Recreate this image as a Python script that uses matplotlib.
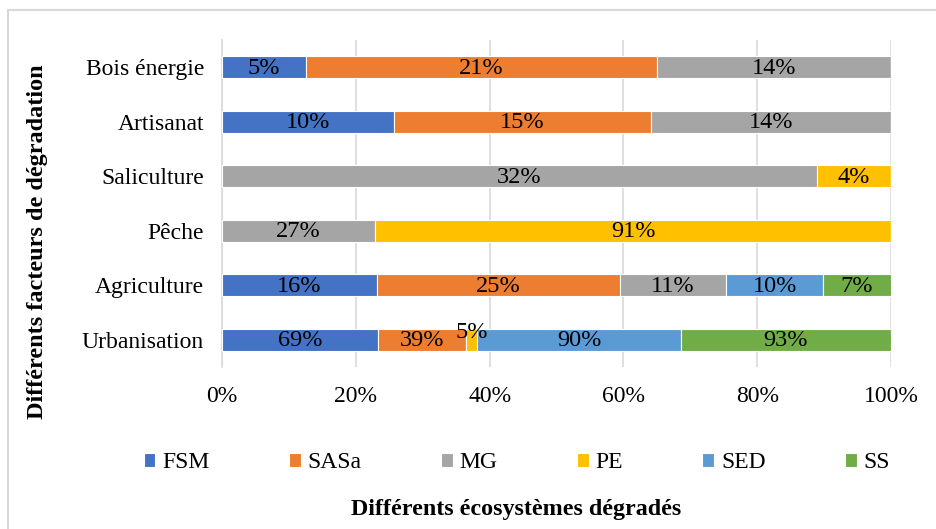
import numpy as np
import matplotlib.pyplot as plt
from matplotlib.patches import Rectangle

plt.rcParams['font.family'] = ['Liberation Serif', 'DejaVu Serif']

# rows from bottom to top
facteurs = ['Urbanisation', 'Agriculture', 'Pêche', 'Saliculture', 'Artisanat', 'Bois énergie']
series = ['FSM', 'SASa', 'MG', 'PE', 'SED', 'SS']
colors = ['#4472C4', '#ED7D31', '#A5A5A5', '#FFC000', '#5B9BD5', '#70AD47']

# raw values (shown as labels), each row normalised to 100 %
FSM  = [69, 16, 0, 0, 10, 5]
SASa = [39, 25, 0, 0, 15, 21]
MG   = [0, 11, 27, 32, 14, 14]
PE   = [5, 0, 91, 4, 0, 0]
SED  = [90, 10, 0, 0, 0, 0]
SS   = [93, 7, 0, 0, 0, 0]

data = np.array([FSM, SASa, MG, PE, SED, SS], dtype=float)
totals = data.sum(axis=0)
shares = data / totals * 100

fig = plt.figure(figsize=(9.36, 5.29), dpi=100)
ax = fig.add_axes([222/936, 1 - 367/529, (891-222)/936, (367-40)/529])

y = np.arange(len(facteurs))
left = np.zeros(len(facteurs))
for k, name in enumerate(series):
    ax.barh(y, shares[k], left=left, height=0.41, color=colors[k],
            edgecolor='white', linewidth=0.8, label=name, zorder=3)
    for i in range(len(facteurs)):
        if data[k, i] > 0:
            cx = left[i] + shares[k, i] / 2
            cy = y[i] - 0.02
            if name == 'PE' and facteurs[i] == 'Urbanisation':
                cy = y[i] + 0.14
            ax.text(cx, cy, f'{int(data[k, i])}%', ha='center', va='center',
                    fontsize=17.5, color='black', zorder=4)
    left += shares[k]

ax.set_xlim(0, 100)
ax.set_ylim(-0.5, len(facteurs) - 0.5)
ax.set_xticks(np.arange(0, 101, 20))
ax.set_xticklabels([f'{v}%' for v in range(0, 101, 20)])
ax.set_yticks(y)
ax.set_yticklabels(facteurs)
ax.tick_params(axis='both', length=0, labelsize=17)
ax.tick_params(axis='x', pad=14)
ax.tick_params(axis='y', pad=13)
ax.grid(axis='x', color='#D9D9D9', linewidth=1.2, zorder=0)
for s in ['top', 'right', 'bottom']:
    ax.spines[s].set_visible(False)
ax.spines['left'].set_color('#D9D9D9')
ax.spines['left'].set_linewidth(1.2)

fig.legend(loc='center', bbox_to_anchor=(517/936, 1 - 463/529), ncol=6, frameon=False,
           fontsize=17, handlelength=0.5, handleheight=0.5, handletextpad=0.3,
           columnspacing=3.35)

fig.text(516/936, 1 - 510/529, 'Différents écosystèmes dégradés', ha='center', va='center',
         fontsize=17.3, fontweight='bold')
fig.text(38/936, 1 - 242/529, 'Différents facteurs de dégradation', ha='center', va='center',
         rotation=90, fontsize=17.5, fontweight='bold')

fig.patches.append(Rectangle((8/936, -0.1), 1.2, 1 - 10/529 + 0.1, transform=fig.transFigure,
                             fill=False, edgecolor='#D9D9D9', linewidth=1.5))

fig.savefig('out.png', dpi=100)
